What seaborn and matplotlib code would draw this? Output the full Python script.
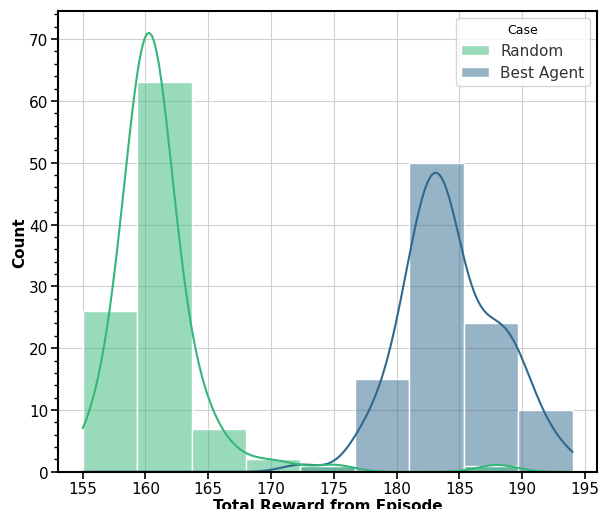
import numpy as np
import pandas as pd
import matplotlib
matplotlib.use("Agg")
import matplotlib.pyplot as plt
import seaborn as sns
from matplotlib.ticker import AutoMinorLocator

# Total reward per episode, estimated from the histogram (value, how many episodes)
random_rewards = [155.0, 156.5, 157.5, 158.5, 159.2,
                  159.5, 160.0, 160.5, 161.0, 161.5, 162.5, 163.5,
                  164.0, 165.0, 166.5,
                  169.0, 171.0,
                  175.0,
                  188.0]
random_counts = [2, 3, 5, 7, 9,
                 7, 11, 15, 14, 8, 4, 4,
                 3, 2, 2,
                 1, 1,
                 1,
                 1]

best_rewards = [172.4,
                177.0, 178.0, 179.5, 180.5,
                181.5, 182.5, 183.5, 184.5,
                186.0, 187.0, 188.0, 189.0,
                190.0, 191.0, 192.5, 194.0]
best_counts = [1,
               2, 3, 4, 6,
               10, 13, 14, 13,
               6, 5, 6, 7,
               4, 3, 2, 1]

case_names = ["Random", "Best Agent"]

df = pd.DataFrame({
    "Total Reward from Episode": np.repeat(random_rewards, random_counts).tolist()
    + np.repeat(best_rewards, best_counts).tolist(),
    "Case": [case_names[0]] * sum(random_counts) + [case_names[1]] * sum(best_counts),
})

sns.set_style("whitegrid", {"axes.edgecolor": "black", "xtick.bottom": True,
                            "ytick.left": True, "grid.color": "#d0d0d0",
                            "text.color": "black", "xtick.color": "black",
                            "ytick.color": "black", "axes.labelcolor": "black"})

fig, ax = plt.subplots(figsize=(6, 5.1), dpi=100)
sns.histplot(data=df, x="Total Reward from Episode", hue="Case", hue_order=case_names,
             bins=9, kde=True, palette="viridis_r", ax=ax,
             line_kws={"linewidth": 1.5})

for s in ax.spines.values():
    s.set_linewidth(1.5)
ax.yaxis.set_minor_locator(AutoMinorLocator(5))
ax.tick_params(axis="both", which="major", labelsize=11, length=5, width=1.2,
               color="black", pad=2)
ax.tick_params(axis="y", which="minor", length=3, width=1, color="black", left=True)
ax.set_xlabel("Total Reward from Episode", fontsize=11, fontweight="bold", labelpad=1)
ax.set_ylabel("Count", fontsize=11, fontweight="bold", labelpad=1)
ax.set_xticks([155, 160, 165, 170, 175, 180, 185, 190, 195])

leg = ax.get_legend()
leg.set_title("Case", prop={"size": 9})
for t in leg.get_texts():
    t.set_fontsize(11)
    t.set_color("#333333")

plt.subplots_adjust(left=0.097, right=0.995, top=0.977, bottom=0.073)
plt.savefig("out.png", dpi=100)
plt.close()
